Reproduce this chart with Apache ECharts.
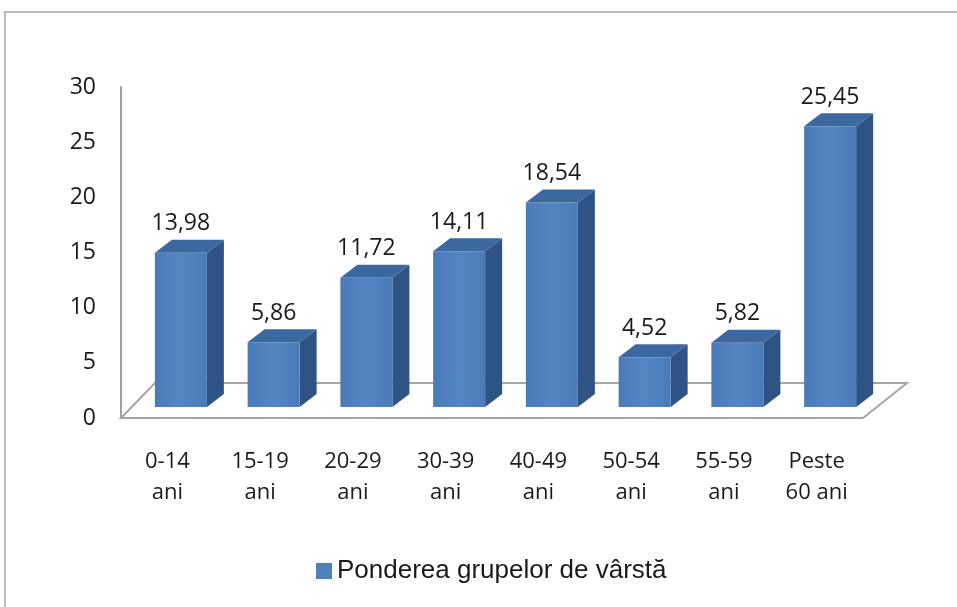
<!DOCTYPE html>
<html>
<head>
<meta charset="utf-8">
<script src="https://cdn.jsdelivr.net/npm/echarts@6/dist/echarts.min.js"></script>
<style>
  html, body { margin: 0; padding: 0; background: #fff; }
  #chart { width: 957px; height: 607px; }
</style>
</head>
<body>
<div id="chart"></div>
<script>
// date
const categories = ['0-14\nani', '15-19\nani', '20-29\nani', '30-39\nani', '40-49\nani', '50-54\nani', '55-59\nani', 'Peste\n60 ani']
const ponderea = [13.98, 5.86, 11.72, 14.11, 18.54, 4.52, 5.82, 25.45]
const seriesName = 'Ponderea grupelor de vârstă'
const yTicks = { min: 0, max: 30, interval: 5 }

// aspect 3D (in pixeli)
const GRID = { left: 121, right: 94, top: 87, bottom: 189 }
const BAR_W = 52
const BAR_SHIFT = [13.5, -11]   // fata barei fata de marginea din fata a podelei
const BAR_DEPTH = [17, -13]     // adancimea barei
const FLOOR_DEPTH = { leftDx: 34, rightDx: 44, dy: -35 }
const COLORS = { front: '#4F81BD', top: '#3C68A0', side: '#2E5384' }

const chart = echarts.init(document.getElementById('chart'))

const W = 957, H = 607
const floorY = H - GRID.bottom
const floorL = GRID.left
const floorR = W - GRID.right

function fmt (v) {
  return v.toFixed(2).replace('.', ',')
}

function renderBar (params, api) {
  const idx = api.value(0)
  const val = api.value(1)
  const base = api.coord([idx, 0])
  const top = api.coord([idx, val])
  const x0 = base[0] + BAR_SHIFT[0] - BAR_W / 2
  const x1 = x0 + BAR_W
  const yb = base[1] + BAR_SHIFT[1]
  const yt = top[1] + BAR_SHIFT[1]
  const dx = BAR_DEPTH[0], dy = BAR_DEPTH[1]
  return {
    type: 'group',
    children: [
      {
        type: 'polygon',
        shape: { points: [[x1, yb], [x1 + dx, yb + dy], [x1 + dx, yt + dy], [x1, yt]] },
        style: { fill: COLORS.side }
      },
      {
        type: 'polygon',
        shape: { points: [[x0, yt], [x0 + dx, yt + dy], [x1 + dx, yt + dy], [x1, yt]] },
        style: { fill: COLORS.top }
      },
      {
        type: 'rect',
        shape: { x: x0, y: yt, width: BAR_W, height: yb - yt },
        style: {
          fill: new echarts.graphic.LinearGradient(0, 0, 1, 0, [
            { offset: 0, color: '#4A7BB8' },
            { offset: 0.5, color: '#5386C3' },
            { offset: 1, color: '#4A7BB8' }
          ])
        }
      },
      {
        type: 'text',
        x: (x0 + x1) / 2,
        y: yt - 29,
        style: {
          text: fmt(val),
          align: 'center',
          verticalAlign: 'middle',
          fontFamily: 'Open Sans',
          fontSize: 23,
          fill: '#1a1a1a'
        }
      }
    ]
  }
}

chart.setOption({
  animation: false,
  backgroundColor: '#fff',
  grid: GRID,
  legend: {
    data: [seriesName],
    left: 311,
    top: 553,
    icon: 'rect',
    itemWidth: 16,
    itemHeight: 16,
    itemGap: 6,
    textStyle: {
      fontFamily: 'Liberation Sans',
      fontSize: 26,
      color: '#1a1a1a'
    }
  },
  graphic: [
    // chenarul exterior
    {
      type: 'rect',
      z: -10,
      shape: { x: 5, y: 12, width: 1000, height: 700 },
      style: { fill: 'none', stroke: '#a6a6a6', lineWidth: 1.5 }
    },
    // podeaua
    {
      type: 'polygon',
      z: -5,
      shape: {
        points: [
          [floorL, floorY],
          [floorL + FLOOR_DEPTH.leftDx, floorY + FLOOR_DEPTH.dy],
          [floorR + FLOOR_DEPTH.rightDx, floorY + FLOOR_DEPTH.dy],
          [floorR, floorY]
        ]
      },
      style: { fill: '#fff', stroke: '#a6a6a6', lineWidth: 2 }
    }
  ],
  xAxis: {
    type: 'category',
    data: categories,
    axisLine: { show: false },
    axisTick: { show: false },
    axisLabel: {
      margin: 28,
      fontFamily: 'Open Sans',
      fontSize: 22,
      lineHeight: 31,
      color: '#1a1a1a'
    }
  },
  yAxis: {
    type: 'value',
    min: yTicks.min,
    max: yTicks.max,
    interval: yTicks.interval,
    splitLine: { show: false },
    axisTick: { show: false },
    axisLine: { show: true, lineStyle: { color: '#a0a0a0', width: 2 } },
    axisLabel: {
      margin: 25,
      fontFamily: 'Open Sans',
      fontSize: 23,
      color: '#1a1a1a'
    }
  },
  series: [{
    name: seriesName,
    type: 'custom',
    itemStyle: { color: COLORS.front },
    renderItem: renderBar,
    encode: { x: 0, y: 1 },
    data: ponderea.map((v, i) => [i, v]),
    z: 5
  }]
})
</script>
</body>
</html>
